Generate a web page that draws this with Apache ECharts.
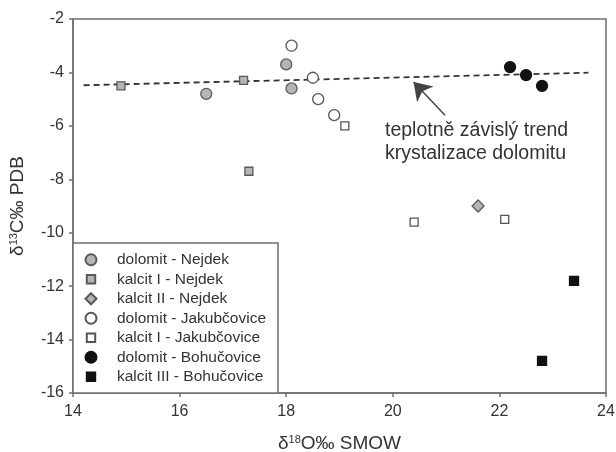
<!DOCTYPE html>
<html><head><meta charset="utf-8">
<script src="https://cdn.jsdelivr.net/npm/echarts@6/dist/echarts.min.js"></script>
<style>html,body{margin:0;padding:0;background:#fff}#c{width:616px;height:452px}</style>
</head><body><div id="c"></div>
<script>
// ---- data ----
const dolomitNejdek = [[16.5,-4.8],[18.0,-3.7],[18.1,-4.6]];
const kalcitINejdek = [[14.9,-4.5],[17.2,-4.3],[17.3,-7.7]];
const kalcitIINejdek = [[21.6,-9.0]];
const dolomitJakubcovice = [[18.1,-3.0],[18.5,-4.2],[18.6,-5.0],[18.9,-5.6]];
const kalcitIJakubcovice = [[19.1,-6.0],[20.4,-9.6],[22.1,-9.5]];
const dolomitBohucovice = [[22.2,-3.8],[22.5,-4.1],[22.8,-4.5]];
const kalcitIIIBohucovice = [[23.4,-11.8],[22.8,-14.8]];
const trendLine = [[14.2,-4.48],[23.67,-4.01]];
const arrowFrom = [20.98,-5.6];
const arrowTo = [20.39,-4.36];
const xTicks = [14,16,18,20,22,24];
const yTicks = [-16,-14,-12,-10,-8,-6,-4,-2];
const seriesNames = ['dolomit - Nejdek','kalcit I - Nejdek','kalcit II - Nejdek','dolomit - Jakubčovice','kalcit I - Jakubčovice','dolomit - Bohučovice','kalcit III - Bohučovice'];
const annotationLines = ['teplotně závislý trend','krystalizace dolomitu'];
const xTitle = 'δ{s|18}O‰ SMOW';
const yTitle = 'δ{s|13}C‰ PDB';

const FONT = "'Liberation Sans', Arial, sans-serif";
const AX = '#707070';
const TXT = '#333';
const GREY = '#b5b5b5';
const SMALL_SQUARE = 'path://M0,0M11,11M1.3,1.3H9.7V9.7H1.3Z';

const chart = echarts.init(document.getElementById('c'), null, {renderer:'canvas'});

function sc(name, data, symbol, size, fill, stroke){
  return {type:'scatter', name, data, symbol, symbolSize:size, z:5,
    itemStyle:{color:fill, borderColor:stroke, borderWidth:1.3, opacity:1}};
}

const titleRich = {
  s:{fontSize:11, fontFamily:FONT, color:TXT, padding:[0,0,9,0]},
};

chart.setOption({
  animation:false,
  backgroundColor:'#fff',
  grid:{left:73, right:10, top:19, bottom:59, show:true, borderColor:AX, borderWidth:1.5,
    outerBoundsMode:'none', containLabel:false},
  xAxis:{type:'value', min:xTicks[0], max:xTicks[xTicks.length-1], interval:2,
    splitLine:{show:false},
    axisLine:{lineStyle:{color:AX, width:1.5}},
    axisTick:{show:true, length:4, lineStyle:{color:AX, width:1.5}},
    axisLabel:{fontSize:16, color:TXT, fontFamily:FONT, margin:11},
    name:xTitle, nameLocation:'middle', nameGap:41,
    nameTextStyle:{fontSize:19, color:TXT, fontFamily:FONT, rich:titleRich}
  },
  yAxis:{type:'value', min:yTicks[0], max:yTicks[yTicks.length-1], interval:2,
    splitLine:{show:false},
    axisLine:{lineStyle:{color:AX, width:1.5}},
    axisTick:{show:true, length:4, lineStyle:{color:AX, width:1.5}},
    axisLabel:{fontSize:16, color:TXT, fontFamily:FONT, margin:9},
    name:yTitle, nameLocation:'middle', nameGap:45,
    nameTextStyle:{fontSize:19, color:TXT, fontFamily:FONT, rich:titleRich}
  },
  legend:{
    orient:'vertical', left:84.5, top:250, padding:0, itemGap:0,
    itemWidth:11, itemHeight:11, z:6,
    textStyle:{fontSize:15.5, color:TXT, fontFamily:FONT, lineHeight:19.5, padding:[0,0,0,15.5]},
    data:[
      {name:seriesNames[0], icon:'circle'},
      {name:seriesNames[1], icon:SMALL_SQUARE},
      {name:seriesNames[2], icon:'diamond'},
      {name:seriesNames[3], icon:'circle'},
      {name:seriesNames[4], icon:SMALL_SQUARE},
      {name:seriesNames[5], icon:'circle'},
      {name:seriesNames[6], icon:SMALL_SQUARE}
    ]
  },
  graphic:[
    {type:'rect', z:3, shape:{x:73, y:243, width:205, height:150},
      style:{fill:'#fff', stroke:AX, lineWidth:1.5}},
    {type:'text', z:6, left:385, top:119,
      style:{text:annotationLines.join('\n'), fontSize:19.5, lineHeight:23, fill:TXT, fontFamily:FONT}}
  ],
  series:[
    {type:'line', data:trendLine, symbol:'none', z:3, silent:true,
      lineStyle:{color:'#333', width:1.8, type:[6,4]},
      markLine:{silent:true, symbol:['none','arrow'], symbolSize:17, label:{show:false},
        lineStyle:{color:'#444', width:1.5, type:'solid'},
        data:[[{coord:arrowFrom},{coord:arrowTo}]]}
    },
    sc(seriesNames[0], dolomitNejdek, 'circle', 11, GREY, '#5a5a5a'),
    sc(seriesNames[1], kalcitINejdek, 'rect', 8, GREY, '#5a5a5a'),
    sc(seriesNames[2], kalcitIINejdek, 'diamond', 12, GREY, '#5a5a5a'),
    sc(seriesNames[3], dolomitJakubcovice, 'circle', 11, '#fff', '#555'),
    sc(seriesNames[4], kalcitIJakubcovice, 'rect', 8, '#fff', '#555'),
    sc(seriesNames[5], dolomitBohucovice, 'circle', 11, '#111', '#111'),
    sc(seriesNames[6], kalcitIIIBohucovice, 'rect', 9, '#111', '#111')
  ]
});
</script></body></html>
